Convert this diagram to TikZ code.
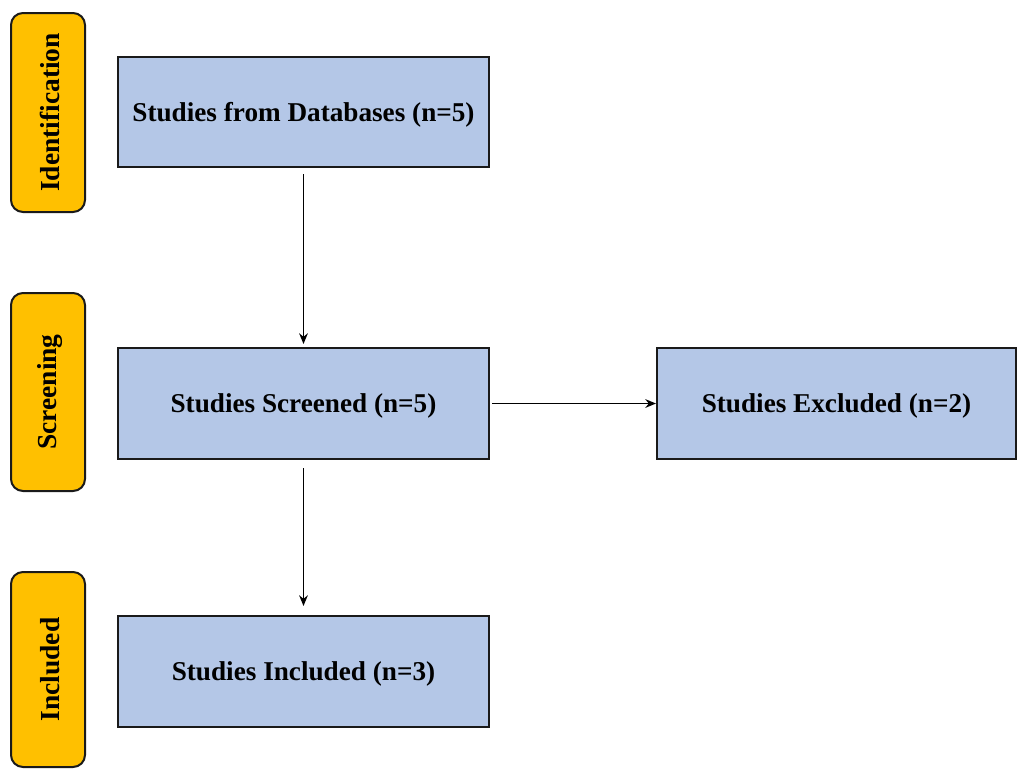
\documentclass[tikz,border=0pt]{standalone}
\usepackage{fontspec}
\setmainfont{Liberation Serif}
\usetikzlibrary{arrows.meta}
\definecolor{boxblue}{HTML}{B4C7E7}
\definecolor{tabgold}{HTML}{FFC000}
\definecolor{edge}{HTML}{1A1A1A}
\begin{document}
\begin{tikzpicture}[x=0.75pt,y=-0.75pt,
  stagebox/.style={draw=edge,line width=1.5pt,fill=boxblue,minimum width=371*0.75pt,minimum height=110*0.75pt,inner sep=0pt,text depth=0pt,font=\fontsize{20.4}{22}\selectfont\bfseries},
  tabbox/.style={draw=edge,line width=1.5pt,fill=tabgold,rounded corners=9pt,minimum width=74*0.75pt,inner sep=0pt},
  tablabel/.style={rotate=90,font=\fontsize{20.6}{22}\selectfont\bfseries},
  conn/.style={line width=1.4pt,-{Stealth[length=8pt,width=6.5pt]}}]
\useasboundingbox (0,0) rectangle (1017,769);
\fill[white] (0,0) rectangle (1017,769);
% stage tabs
\node[tabbox,minimum height=199*0.75pt] (t1) at (48,112.5) {};
\node[tablabel] (l1) at ([xshift=2*0.75pt]t1.center) {Identification};
\node[tabbox,minimum height=198*0.75pt] (t2) at (48,392) {};
\node[tablabel] (l2) at ([xshift=2*0.75pt]t2.center) {Screening};
\node[tabbox,minimum height=195*0.75pt] (t3) at (48,669.5) {};
\node[tablabel] (l3) at ([xshift=2*0.75pt]t3.center) {Included};
% boxes
\node[stagebox] (b1) at (303.5,112) {Studies from Databases (n=5)};
\node[stagebox,minimum height=111*0.75pt] (b2) at (303.5,403.5) {Studies Screened (n=5)};
\node[stagebox,minimum height=111*0.75pt] (b3) at (303.5,671.5) {Studies Included (n=3)};
\node[stagebox,minimum width=359*0.75pt,minimum height=111*0.75pt] (b4) at (836.5,403.5) {Studies Excluded (n=2)};
% connectors
\draw[conn] ([yshift=-6*0.75pt]b1.south) -- ([yshift=3*0.75pt]b2.north);
\draw[conn] ([yshift=-8*0.75pt]b2.south) -- ([yshift=9*0.75pt]b3.north);
\draw[conn] ([xshift=2*0.75pt]b2.east) -- (b4.west);
\end{tikzpicture}
\end{document}
